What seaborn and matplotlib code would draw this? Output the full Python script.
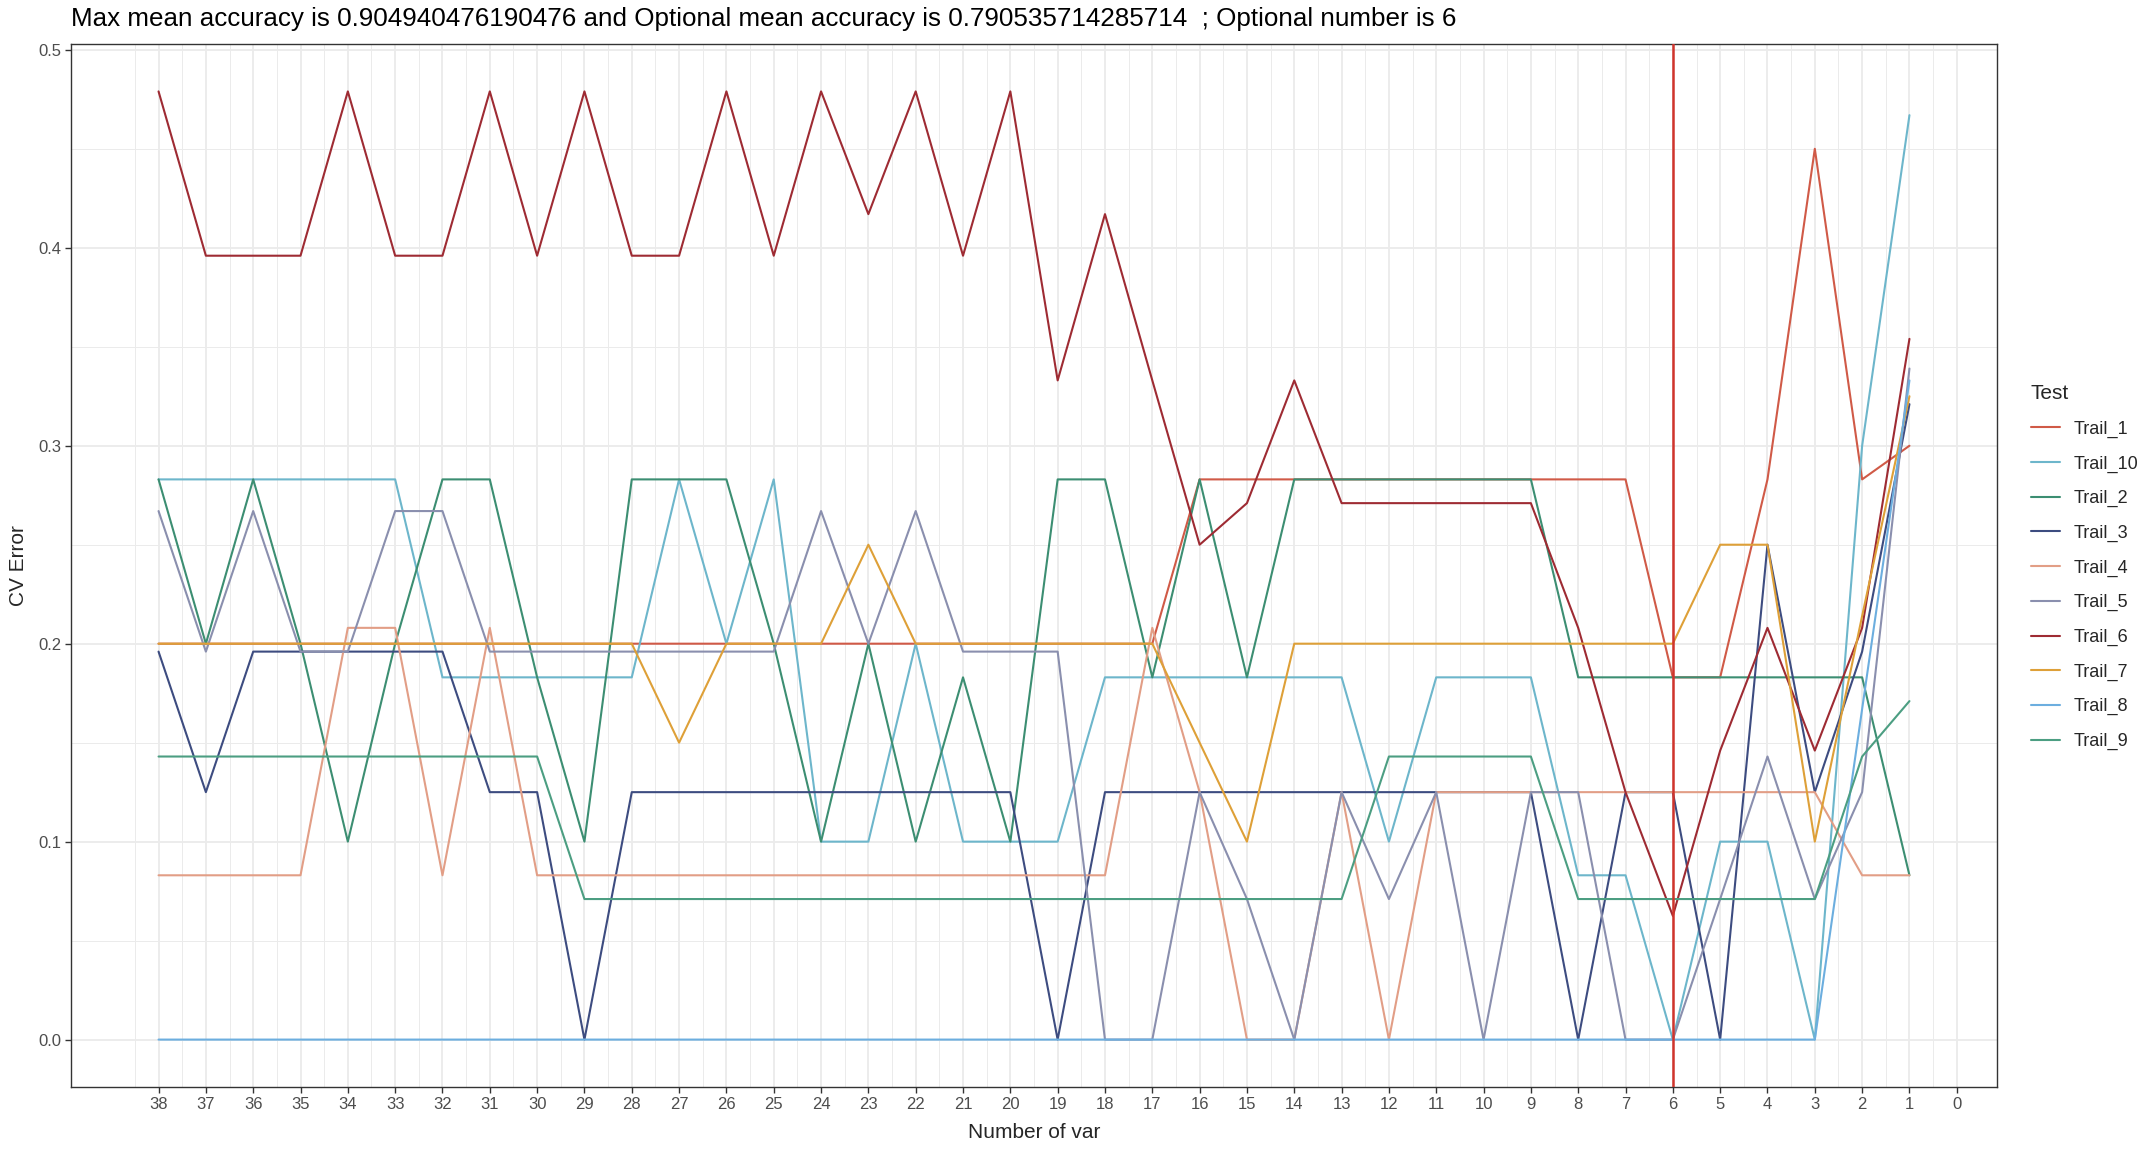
import matplotlib
matplotlib.use("Agg")
import matplotlib.pyplot as plt
from matplotlib.lines import Line2D
import seaborn as sns
import pandas as pd
import numpy as np

# ---------------- data ----------------
num_var = list(range(38, 0, -1))  # 38 ... 1

trail_1 = [0.2] * 22 + [0.283] * 10 + [0.183, 0.183, 0.283, 0.45, 0.283, 0.3]
trail_10 = ([0.283] * 6 + [0.183] * 5 + [0.283, 0.2, 0.283, 0.1, 0.1, 0.2, 0.1, 0.1, 0.1]
            + [0.183] * 6 + [0.1] + [0.183] * 3 + [0.083, 0.083, 0.0, 0.1, 0.1, 0.0, 0.3, 0.467])
trail_2 = ([0.283, 0.2, 0.283, 0.2, 0.1, 0.2, 0.283, 0.283, 0.183, 0.1, 0.283, 0.283,
            0.283, 0.2, 0.1, 0.2, 0.1, 0.183, 0.1, 0.283, 0.283, 0.183, 0.283, 0.183]
           + [0.283] * 6 + [0.183] * 7 + [0.083])
trail_3 = ([0.196, 0.125] + [0.196] * 5 + [0.125, 0.125, 0.0] + [0.125] * 9 + [0.0]
           + [0.125] * 10 + [0.0, 0.125, 0.125, 0.0, 0.25, 0.125, 0.196, 0.321])
trail_4 = ([0.083] * 4 + [0.208, 0.208, 0.083, 0.208] + [0.083] * 13
           + [0.208, 0.125, 0.0, 0.0, 0.125, 0.0] + [0.125] * 9 + [0.083, 0.083])
trail_5 = ([0.267, 0.196, 0.267, 0.196, 0.196, 0.267, 0.267] + [0.196] * 7
           + [0.267, 0.2, 0.267, 0.196, 0.196, 0.196]
           + [0.0, 0.0, 0.125, 0.071, 0.0, 0.125, 0.071, 0.125, 0.0, 0.125, 0.125,
              0.0, 0.0, 0.071, 0.143, 0.071, 0.125, 0.339])
trail_6 = ([0.479, 0.396, 0.396, 0.396, 0.479, 0.396, 0.396, 0.479, 0.396, 0.479,
            0.396, 0.396, 0.479, 0.396, 0.479, 0.417, 0.479, 0.396, 0.479, 0.333,
            0.417, 0.333, 0.25, 0.271, 0.333] + [0.271] * 5
           + [0.208, 0.125, 0.0625, 0.146, 0.208, 0.146, 0.208, 0.354])
trail_7 = ([0.2] * 11 + [0.15] + [0.2] * 3 + [0.25] + [0.2] * 6 + [0.15, 0.1]
           + [0.2] * 9 + [0.25, 0.25, 0.1, 0.214, 0.325])
trail_8 = [0.0] * 36 + [0.167, 0.333]
trail_9 = [0.143] * 9 + [0.071] * 17 + [0.143] * 4 + [0.071] * 6 + [0.143, 0.171]

series = {
    "Trail_1": trail_1, "Trail_10": trail_10, "Trail_2": trail_2, "Trail_3": trail_3,
    "Trail_4": trail_4, "Trail_5": trail_5, "Trail_6": trail_6, "Trail_7": trail_7,
    "Trail_8": trail_8, "Trail_9": trail_9,
}
legend_order = list(series.keys())
colors = ["#D05A47", "#6DB6CB", "#3C8E72", "#3D4C80", "#E29E86",
          "#8A8FAE", "#9E2B33", "#DEA038", "#6CAEDF", "#4C9E82"]
palette = dict(zip(legend_order, colors))

optional_number = 6
title = ("Max mean accuracy is 0.904940476190476 and Optional mean accuracy is "
         "0.790535714285714  ; Optional number is 6")

rows = []
for name, vals in series.items():
    for x, v in zip(num_var, vals):
        rows.append({"Number of var": x, "CV Error": v, "Test": name})
df = pd.DataFrame(rows)

# ---------------- plot ----------------
sns.set_theme(style="white")
plt.rcParams["font.family"] = ["Liberation Sans", "DejaVu Sans"]

W, H = 2150, 1150
fig = plt.figure(figsize=(W / 100, H / 100), dpi=100)
L, R, T, B = 71, 1997, 44, 1087
ax = fig.add_axes([L / W, 1 - B / H, (R - L) / W, (B - T) / H])
ax.set_facecolor("white")

sns.lineplot(data=df, x="Number of var", y="CV Error", hue="Test",
             hue_order=legend_order, palette=palette, linewidth=1.5,
             estimator=None, legend=False, ax=ax)
ax.axvline(optional_number, color="#D0342C", linewidth=1.8, zorder=5)

ymax = max(max(v) for v in series.values())
ax.set_xlim(39.85, -0.85)
ax.set_ylim(-0.05 * ymax, ymax * 1.05)
ax.set_xticks(range(0, 39))
ax.set_xticklabels([str(i) for i in range(0, 39)])
ax.set_xticks(np.arange(0.5, 39.5, 1.0), minor=True)
ax.set_yticks([0.0, 0.1, 0.2, 0.3, 0.4, 0.5])
ax.set_yticklabels(["0.0", "0.1", "0.2", "0.3", "0.4", "0.5"])
ax.set_yticks([0.05, 0.15, 0.25, 0.35, 0.45], minor=True)

ax.grid(which="major", color="#EBEBEB", linewidth=1.3)
ax.grid(which="minor", color="#EBEBEB", linewidth=0.7)
ax.set_axisbelow(True)
for s in ax.spines.values():
    s.set_color("#333333")
    s.set_linewidth(1.0)
ax.tick_params(which="major", length=4, width=1.0, color="#333333",
               labelsize=12, labelcolor="#4D4D4D", pad=3, direction="out",
               bottom=True, left=True)
ax.tick_params(which="minor", length=0)
ax.set_xlabel("")
ax.set_ylabel("")

fig.text(L / W, 1 - 19 / H, title, fontsize=18.7, ha="left", va="center", color="black")
fig.text((L + R) / 2 / W, 1 - 1133 / H, "Number of var", fontsize=15,
         ha="center", va="center")
fig.text(18 / W, 1 - ((T + B) / 2) / H, "CV Error", fontsize=15, rotation=90,
         ha="center", va="center")

handles = [Line2D([0], [0], color=palette[n], linewidth=1.5) for n in legend_order]
leg = fig.legend(handles, legend_order, loc="upper left",
                 bbox_to_anchor=(2018 / W, 1 - 371 / H), frameon=False,
                 title="Test", fontsize=13, title_fontsize=15,
                 handlelength=1.6, handletextpad=0.8, labelspacing=0.97,
                 borderaxespad=0.3)
leg._legend_box.align = "left"
leg._legend_box.sep = 13

fig.savefig("out.png", dpi=100, facecolor="white")
